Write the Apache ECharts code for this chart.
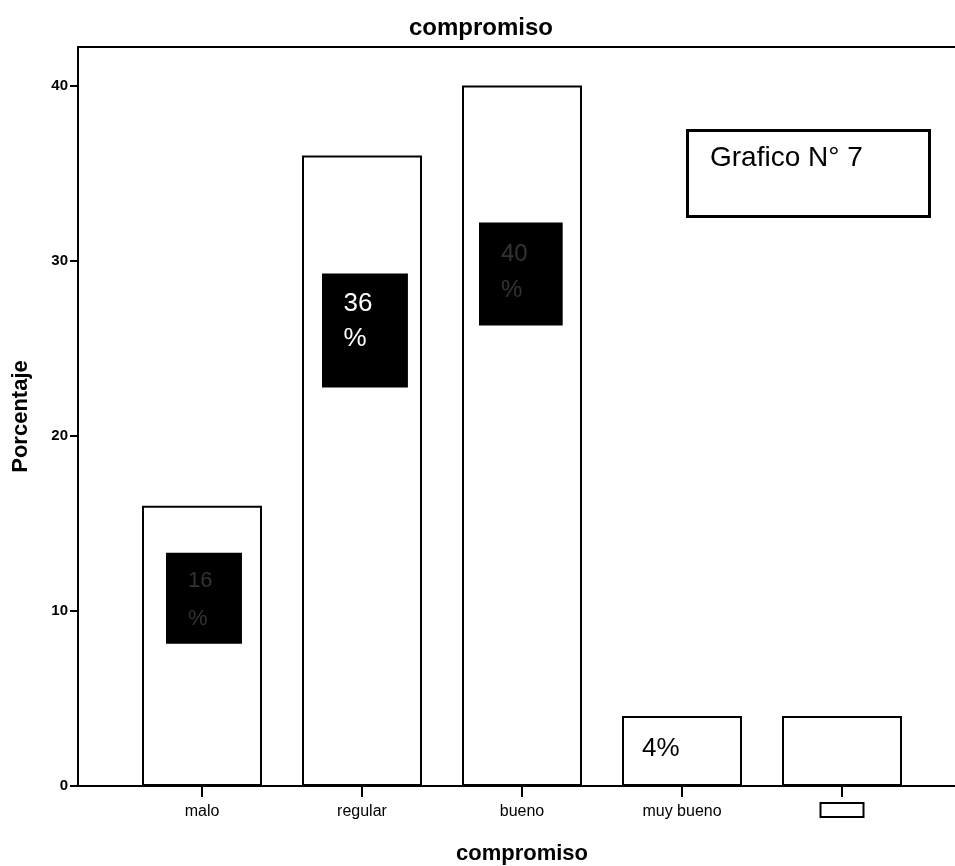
<!DOCTYPE html>
<html>
<head>
<meta charset="utf-8">
<script src="https://cdn.jsdelivr.net/npm/echarts@6/dist/echarts.min.js"></script>
<style>
  html, body { margin: 0; padding: 0; background: #fff; }
  #chart { width: 955px; height: 866px; }
</style>
</head>
<body>
<div id="chart"></div>
<script>
// Categories on the x axis (the last one has no name)
const categories = ['malo', 'regular', 'bueno', 'muy bueno', ''];
// Percentage per category
const percentages = [16, 36, 40, 4, 4];
// Y axis tick values
const yTicks = [0, 10, 20, 30, 40];
const yMax = 42.2;

const FONT = "'Liberation Sans', Arial, sans-serif";

// Black value boxes drawn inside the bars
function boxLabel(pos, pad, size, lh, color) {
  return {
    show: true, position: pos, align: 'left', verticalAlign: 'top',
    backgroundColor: '#000', padding: pad,
    fontFamily: FONT, fontSize: size, lineHeight: lh, color: color,
    formatter: p => p.value + '\n%'
  };
}
const barLabels = [
  boxLabel([24, 47], [9.5, 29.5, 5.5, 22], 22, 38, '#333'),
  boxLabel([20, 118], [12.5, 35.5, 31.5, 21.5], 26, 35, '#fff'),
  boxLabel([17, 137], [14, 35, 17, 22], 24, 36, '#333'),
  { show: true, position: [20, 33], align: 'left', verticalAlign: 'middle',
    fontFamily: FONT, fontSize: 26, color: '#000', formatter: p => p.value + '%' },
  { show: false }
];

const chart = echarts.init(document.getElementById('chart'), null, { renderer: 'canvas' });

chart.setOption({
  animation: false,
  backgroundColor: '#fff',
  title: [
    {
      text: 'compromiso', left: 409, top: 16, padding: 0,
      textStyle: { fontFamily: FONT, fontSize: 24, fontWeight: 'bold', color: '#000' }
    },
    {
      text: 'Grafico N° 7', left: 687, top: 130,
      padding: [14, 67, 45, 23],
      borderColor: '#000', borderWidth: 3, backgroundColor: '#fff',
      textStyle: { fontFamily: FONT, fontSize: 28, fontWeight: 'normal', color: '#000', lineHeight: 28 }
    }
  ],
  grid: [
    // frame: y axis, bottom and top lines
    { left: 78, right: 0, top: 47, bottom: 80, outerBoundsMode: 'none', containLabel: false },
    // bars
    { left: 122, width: 800, top: 47, bottom: 80, outerBoundsMode: 'none', containLabel: false }
  ],
  xAxis: [
    {
      gridIndex: 0, type: 'value', min: 0, max: 1, position: 'bottom',
      axisLine: { show: true, lineStyle: { color: '#000', width: 2 } },
      axisTick: { show: false }, axisLabel: { show: false }, splitLine: { show: false }
    },
    {
      gridIndex: 0, type: 'value', min: 0, max: 1, position: 'top',
      axisLine: { show: true, lineStyle: { color: '#000', width: 2 } },
      axisTick: { show: false }, axisLabel: { show: false }, splitLine: { show: false }
    },
    {
      gridIndex: 1, type: 'category', data: categories, position: 'bottom',
      name: 'compromiso', nameLocation: 'middle', nameGap: 57,
      nameTextStyle: { fontFamily: FONT, fontSize: 22, fontWeight: 'bold', color: '#000' },
      axisLine: { show: false },
      axisTick: { show: true, alignWithLabel: true, length: 11, lineStyle: { color: '#000', width: 2 } },
      axisLabel: {
        margin: 18, fontFamily: FONT, fontSize: 16, color: '#000',
        formatter: v => v === '' ? '{box| }' : v,
        rich: { box: { width: 41, height: 12, borderColor: '#000', borderWidth: 2, backgroundColor: '#fff' } }
      },
      splitLine: { show: false }
    }
  ],
  yAxis: [
    {
      gridIndex: 0, type: 'value', min: 0, max: yMax, interval: 10,
      name: 'Porcentaje', nameLocation: 'middle', nameGap: 46,
      nameTextStyle: { fontFamily: FONT, fontSize: 22, fontWeight: 'bold', color: '#000' },
      axisLine: { show: true, lineStyle: { color: '#000', width: 2 } },
      axisTick: { show: true, length: 8, customValues: yTicks, lineStyle: { color: '#000', width: 2 } },
      axisLabel: { margin: 10, customValues: yTicks, fontFamily: FONT, fontSize: 15, fontWeight: 'bold', color: '#000' },
      splitLine: { show: false }
    },
    {
      gridIndex: 1, type: 'value', min: 0, max: yMax, show: false
    }
  ],
  series: [
    {
      type: 'bar', xAxisIndex: 2, yAxisIndex: 1,
      barWidth: '75%',
      itemStyle: { color: '#fff', borderColor: '#000', borderWidth: 2 },
      data: percentages.map((v, i) => ({ value: v, label: barLabels[i] }))
    }
  ]
});
</script>
</body>
</html>
